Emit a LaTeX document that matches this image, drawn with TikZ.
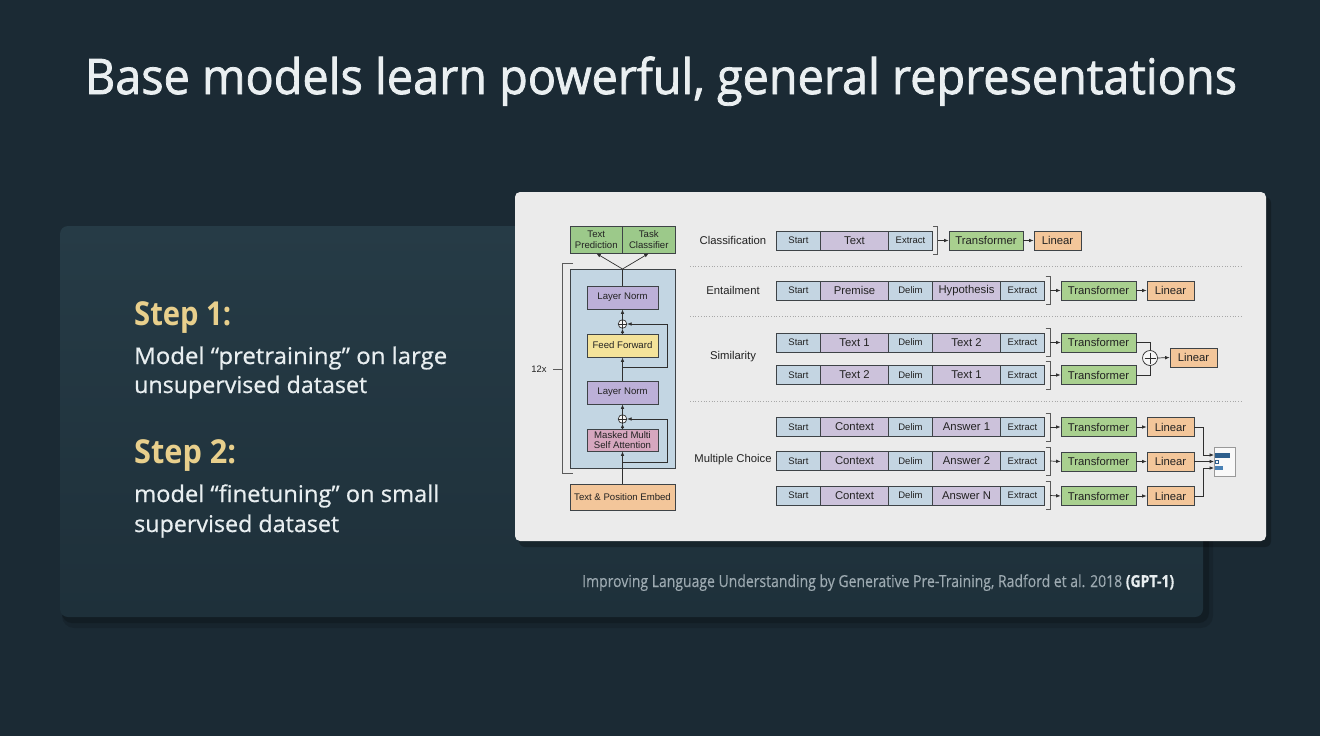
\documentclass[tikz,border=0pt]{standalone}
\usepackage{fontspec}
\setmainfont{Open Sans}
\newfontfamily\titlefont[FakeBold=1.6]{Open Sans}
\newfontfamily\bodyfont[FakeBold=0.7]{Open Sans}
\newfontfamily\citefont[FakeBold=0.3]{Open Sans}
\newfontfamily\arialf{Liberation Sans}
\usetikzlibrary{arrows.meta}
\definecolor{bgc}{HTML}{1B2A34}
\definecolor{panA}{HTML}{263B46}
\definecolor{panB}{HTML}{1E303A}
\definecolor{boxc}{HTML}{EBEBEB}
\definecolor{titc}{HTML}{EAEFF1}
\definecolor{goldc}{HTML}{E8CF8C}
\definecolor{bodyc}{HTML}{E8EEF0}
\definecolor{citec}{HTML}{9DAAB1}
\definecolor{bdc}{HTML}{3E4347}
\definecolor{tokb}{HTML}{C4D5E2}
\definecolor{tokl}{HTML}{CCC2DB}
\definecolor{grn}{HTML}{A9D08F}
\definecolor{grnd}{HTML}{9CC98A}
\definecolor{org}{HTML}{F3C69A}
\definecolor{lnc}{HTML}{BCB0D8}
\definecolor{ffc}{HTML}{F4E39A}
\definecolor{mmc}{HTML}{D6A7BF}
\definecolor{blk}{HTML}{C3D6E3}
\definecolor{linec}{HTML}{2F2F2F}
\definecolor{brkc}{HTML}{5A5A5A}
\definecolor{dotc}{HTML}{A8A8A8}
\definecolor{bar1}{HTML}{2D5E8C}
\definecolor{bar2}{HTML}{4B82B5}
\definecolor{txtc}{HTML}{222222}
\newcommand\fitw[2]{\resizebox{#1}{\height}{#2}}
\newcommand\fiverow[4]{%
  \node[sm] (#1s) at (798.5,#2) {Start};
  \node[lg] (#1a) at (854.5,#2) {#3};
  \node[sm] (#1d) at (910.5,#2) {Delim};
  \node[lg] (#1b) at (966.5,#2) {#4};
  \node[sm] (#1e) at (1022.5,#2) {Extract};
  \draw[brk] (1045.5,{#2-14}) -- (1050,{#2-14}) -- (1050,{#2+14}) -- (1045.5,{#2+14});
  \coordinate (#1k) at (1050,#2);
}
\begin{document}
\begin{tikzpicture}[x=1pt,y=-1pt,
  bx/.style={draw=bdc, line width=0.7pt, inner sep=0pt, text=txtc},
  sm/.style={bx, fill=tokb, minimum width=44, minimum height=19, font=\arialf\fontsize{9.5}{10}\selectfont},
  lg/.style={bx, fill=tokl, minimum width=68, minimum height=19, font=\arialf\fontsize{11.3}{12}\selectfont},
  trf/.style={bx, fill=grn, minimum width=75, minimum height=19, font=\arialf\fontsize{11.3}{12}\selectfont},
  lin/.style={bx, fill=org, minimum width=47, minimum height=19, font=\arialf\fontsize{11.3}{12}\selectfont},
  arch/.style={bx, line width=0.8pt, align=center, minimum width=71, minimum height=23, font=\arialf\fontsize{9.6}{10.6}\selectfont},
  lbl/.style={text=txtc, font=\arialf\fontsize{11.3}{12}\selectfont},
  arr/.style={draw=linec, line width=0.7pt, -{Latex[length=4.5pt,width=3.6pt]}},
  ln/.style={draw=linec, line width=0.7pt},
  brk/.style={draw=brkc, line width=0.9pt},
  dots/.style={draw=dotc, line width=0.7pt, dotted},
  plusc/.style={circle, draw=linec, line width=0.7pt, fill=white!55!boxc, inner sep=0pt},
]
\useasboundingbox (0,0) rectangle (1320,736);
\fill[bgc] (0,0) rectangle (1320,736);
% left panel with shadow
\fill[black,opacity=0.12,rounded corners=12] (62,230) rectangle (1213,628);
\fill[black,opacity=0.18,rounded corners=10] (62,229) rectangle (1209,623);
\shade[top color=panA,bottom color=panB,rounded corners=8] (60,226) rectangle (1203,617);
% title
\node[anchor=base, text=titc, font=\titlefont\fontsize{49}{58}\selectfont, inner sep=0pt] (title) at (661,94) {\fitw{1152pt}{Base models learn powerful, general representations}};
% steps
\node[anchor=base west, text=goldc, font=\bfseries\fontsize{33}{40}\selectfont, inner sep=0pt] (s1) at (134,325) {\fitw{97pt}{Step 1:}};
\node[anchor=base west, text=bodyc, font=\bodyfont\fontsize{23}{28}\selectfont, inner sep=0pt] (s1a) at (134,364) {\fitw{313pt}{Model “pretraining” on large}};
\node[anchor=base west, text=bodyc, font=\bodyfont\fontsize{23}{28}\selectfont, inner sep=0pt] (s1b) at (134,393) {\fitw{233pt}{unsupervised dataset}};
\node[anchor=base west, text=goldc, font=\bfseries\fontsize{33}{40}\selectfont, inner sep=0pt] (s2) at (134,463) {\fitw{102pt}{Step 2:}};
\node[anchor=base west, text=bodyc, font=\bodyfont\fontsize{23}{28}\selectfont, inner sep=0pt] (s2a) at (134,502) {\fitw{305pt}{model “finetuning” on small}};
\node[anchor=base west, text=bodyc, font=\bodyfont\fontsize{23}{28}\selectfont, inner sep=0pt] (s2b) at (134,532) {\fitw{205pt}{supervised dataset}};
% citation
\node[anchor=base west, text=citec, font=\citefont\fontsize{16.5}{20}\selectfont, inner sep=0pt] (cite) at (582,587) {\fitw{592pt}{Improving Language Understanding by Generative Pre-Training, Radford et al. 2018 {\color{bodyc}\bfseries(GPT-1)}}};
% white figure box
\fill[black,opacity=0.25,rounded corners=6] (519,197) rectangle (1271,547);
\fill[boxc,rounded corners=5] (515,192) rectangle (1266,541);

% ---------- left architecture ----------
\node[bx, fill=blk, line width=1pt, minimum width=105, minimum height=199] (blkb) at (622.5,368.5) {};
\node[arch, fill=grnd, minimum width=52.5, minimum height=27] (tp) at (596.25,239.5) {Text\\Prediction};
\node[arch, fill=grnd, minimum width=52.5, minimum height=27] (tc) at (648.75,239.5) {Task\\Classifier};
\node[arch, fill=lnc] (ln2) at (622.5,297.5) {Layer Norm};
\node[arch, fill=ffc] (ff) at (622.5,345.5) {Feed Forward};
\node[arch, fill=lnc] (ln1) at (622.5,392.5) {Layer Norm};
\node[arch, fill=mmc, minimum height=22] (mm) at (622.5,440) {Masked Multi\\Self Attention};
\node[arch, fill=org, minimum width=105, minimum height=26] (emb) at (622.5,497) {Text \& Position Embed};
\node[plusc, minimum size=8.5] (p1) at (622.5,419) {};
\node[plusc, minimum size=8.5] (p2) at (622.5,324) {};
\draw[ln, line width=0.6pt] (p1.north) -- (p1.south) (p1.west) -- (p1.east);
\draw[ln, line width=0.6pt] (p2.north) -- (p2.south) (p2.west) -- (p2.east);
\coordinate (r1) at (622.5,462);
\coordinate (r2) at (622.5,367);
\coordinate (tq) at (622.5,269);
\draw[arr] (emb.north) -- (mm.south);
\draw[arr] (r1) -| (667,419) -- (p1.east);
\draw[arr] (mm.north) -- (p1.south);
\draw[arr] (p1.north) -- (ln1.south);
\draw[arr] (ln1.north) -- (ff.south);
\draw[arr] (r2) -| (667,324) -- (p2.east);
\draw[arr] (ff.north) -- (p2.south);
\draw[arr] (p2.north) -- (ln2.south);
\draw[ln] (ln2.north) -- (tq);
\draw[arr] (tq) -- (tp.south);
\draw[arr] (tq) -- (tc.south);
% 12x bracket
\draw[brk] (573,263) -- (562,263) -- (562,473) -- (573,473);
\coordinate (rk) at (562,369);
\draw[brk] (rk) -- ++(-9,0);
\node[lbl, font=\arialf\fontsize{9.4}{10}\selectfont] (rep) at (539,369) {12x};

% ---------- right tasks ----------
\draw[dots] (690,266) -- (1241,266);
\draw[dots] (690,316) -- (1241,316);
\draw[dots] (690,401) -- (1241,401);

% Classification
\node[lbl] (lc) at (733,240.5) {Classification};
\node[sm] (cs) at (798.5,240.5) {Start};
\node[lg] (ca) at (854.5,240.5) {Text};
\node[sm] (ce) at (910.5,240.5) {Extract};
\draw[brk] (933,226.5) -- (937.5,226.5) -- (937.5,254.5) -- (933,254.5);
\coordinate (ck) at (937.5,240.5);
\node[trf, minimum width=74] (cT) at (986,240.5) {Transformer};
\node[lin] (cL) at (1057.5,240.5) {Linear};
\draw[arr] (ck) -- (cT.west);
\draw[arr] (cT.east) -- (cL.west);

% Entailment
\node[lbl] (le) at (733,290.5) {Entailment};
\fiverow{e}{290.5}{Premise}{Hypothesis}
\node[trf] (eT) at (1098.5,290.5) {Transformer};
\node[lin] (eL) at (1170.5,290.5) {Linear};
\draw[arr] (ek) -- (eT.west);
\draw[arr] (eT.east) -- (eL.west);

% Similarity
\node[lbl] (ls) at (733,357) {Similarity};
\fiverow{sa}{342.5}{Text 1}{Text 2}
\fiverow{sb}{375}{Text 2}{Text 1}
\node[trf] (sT1) at (1098.5,342.5) {Transformer};
\node[trf] (sT2) at (1098.5,375) {Transformer};
\node[plusc, minimum size=15] (sp) at (1150,358) {};
\draw[ln, line width=0.9pt] ([yshift=5.5pt]sp.center) -- ([yshift=-5.5pt]sp.center) ([xshift=-5.5pt]sp.center) -- ([xshift=5.5pt]sp.center);
\node[lin] (sL) at (1193.5,357.5) {Linear};
\draw[arr] (sak) -- (sT1.west);
\draw[arr] (sbk) -- (sT2.west);
\draw[ln] (sT1.east) -| (sp.north);
\draw[ln] (sT2.east) -| (sp.south);
\draw[arr] (sp.east) -- (sL.west);

% Multiple choice
\node[lbl] (lm) at (733,460) {Multiple Choice};
\fiverow{ma}{427}{Context}{Answer 1}
\fiverow{mb}{461}{Context}{Answer 2}
\fiverow{mc}{495.5}{Context}{Answer N}
\node[trf] (mT1) at (1098.5,427) {Transformer};
\node[trf] (mT2) at (1098.5,461.5) {Transformer};
\node[trf] (mT3) at (1098.5,496) {Transformer};
\node[lin] (mL1) at (1170.5,427) {Linear};
\node[lin] (mL2) at (1170.5,461.5) {Linear};
\node[lin] (mL3) at (1170.5,496) {Linear};
\draw[arr] (mak) -- (mT1.west);
\draw[arr] (mbk) -- (mT2.west);
\draw[arr] (mck) -- (mT3.west);
\draw[arr] (mT1.east) -- (mL1.west);
\draw[arr] (mT2.east) -- (mL2.west);
\draw[arr] (mT3.east) -- (mL3.west);
\node[draw=gray!80, line width=0.7pt, fill=white!70!boxc, minimum width=21, minimum height=29, inner sep=0pt] (out) at (1224.5,462) {};
\fill[bar1] (1214.5,453) rectangle (1230,457.5);
\draw[bar1, line width=0.6pt] (1214.8,459.8) rectangle (1218,463.2);
\fill[bar2] (1214.5,466) rectangle (1223,469.5);
\coordinate (in1) at (1214,455);
\coordinate (in2) at (1214,461.5);
\coordinate (in3) at (1214,468);
\draw[arr] (mL1.east) -- ++(9,0) |- (in1);
\draw[arr] (mL2.east) -- (in2);
\draw[arr] (mL3.east) -- ++(9,0) |- (in3);
\end{tikzpicture}
\end{document}
